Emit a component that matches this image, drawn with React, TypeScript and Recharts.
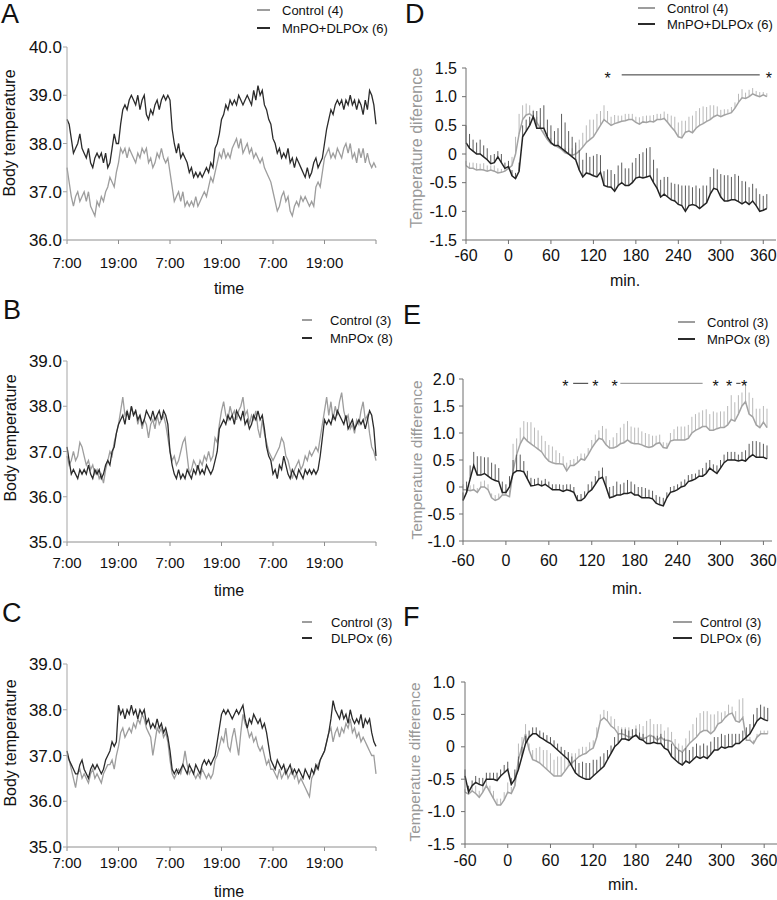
import React from 'react';
import { LineChart, Line, XAxis, YAxis, ErrorBar, ReferenceLine, ReferenceDot } from 'recharts';

const FONT = '"Liberation Sans", Arial, Helvetica, sans-serif';
const GRAY = '#9d9d9d';
const DARK = '#2b2b2b';

// body temperature, one value every 30 min starting 7:00 on day 1 (72 h)
const HOUR_STEP = 0.5;

const tempA_control = [
  37.5, 37.2, 36.9, 36.7, 36.9, 37.0, 36.8, 36.9, 37.0, 36.8, 37.0, 36.7, 36.6, 36.5, 36.8, 36.7, 36.9, 36.8, 37.0, 37.1, 37.3, 37.2, 37.1, 37.4,
  37.6, 37.9, 37.8, 37.9, 37.7, 37.9, 37.8, 37.7, 37.6, 37.8, 37.7, 37.9, 37.8, 37.9, 37.6, 37.7, 37.5, 37.6, 37.8, 37.7, 37.9, 37.7, 37.6, 37.7,
  37.4, 37.1, 36.8, 36.9, 37.0, 36.8, 37.0, 36.7, 36.8, 36.7, 36.8, 36.7, 36.9, 36.7, 36.8, 36.9, 37.0, 36.9, 37.1, 37.3, 37.2, 37.4, 37.6, 37.8,
  37.7, 37.9, 37.7, 37.8, 37.7, 37.9, 38.0, 38.1, 37.9, 38.1, 37.8, 37.9, 38.0, 37.8, 37.9, 37.7, 37.8, 37.7, 37.6, 37.7, 37.5, 37.4, 37.3, 37.2,
  37.0, 36.8, 36.6, 36.7, 36.9, 37.0, 36.8, 36.9, 36.6, 36.5, 36.7, 36.8, 36.7, 36.9, 36.8, 36.9, 36.8, 36.7, 36.8, 36.7, 37.1, 37.2, 37.1, 37.4,
  37.7, 37.8, 37.9, 37.7, 37.8, 37.7, 37.9, 37.8, 37.7, 37.9, 38.0, 37.8, 38.0, 37.7, 37.8, 37.6, 37.9, 37.7, 37.9, 37.6, 37.8, 37.6, 37.5, 37.6,
  37.5,
];
const tempA_lesion = [
  38.5, 38.4, 38.1, 37.8, 37.9, 38.0, 38.2, 37.9, 37.8, 37.7, 37.9, 37.6, 37.5, 37.7, 37.8, 37.7, 37.8, 37.6, 37.8, 37.5, 37.6, 37.9, 38.2, 38.0,
  38.0, 38.4, 38.7, 38.8, 38.7, 38.9, 39.0, 38.9, 38.8, 39.0, 38.7, 38.9, 39.0, 38.6, 38.5, 38.7, 38.6, 38.8, 38.9, 38.7, 38.9, 39.0, 38.9, 39.0,
  38.9, 38.3, 38.0, 37.8, 38.0, 37.7, 37.8, 37.7, 37.6, 37.4, 37.5, 37.3, 37.4, 37.3, 37.4, 37.3, 37.4, 37.5, 37.4, 37.6, 37.5, 37.9, 38.0, 38.2,
  38.5, 38.6, 38.8, 38.7, 38.9, 38.8, 38.9, 38.8, 39.0, 38.9, 38.8, 38.9, 39.0, 38.9, 38.8, 39.1, 38.9, 39.2, 39.0, 39.1, 38.8, 38.7, 38.5, 38.4,
  38.1, 38.0, 37.8, 37.9, 37.7, 37.8, 37.7, 37.9, 37.6, 37.7, 37.5, 37.7, 37.6, 37.5, 37.4, 37.3, 37.5, 37.3, 37.4, 37.6, 37.7, 37.5, 37.6, 37.7,
  38.0, 38.3, 38.5, 38.7, 38.6, 38.8, 38.9, 38.8, 38.9, 38.7, 38.9, 38.8, 39.0, 38.8, 38.9, 38.7, 38.9, 38.8, 38.6, 38.9, 38.7, 39.1, 39.0, 38.8,
  38.4,
];

const tempB_control = [
  36.9, 36.7, 36.8, 37.0, 36.8, 36.9, 37.2, 37.1, 36.9, 36.7, 36.8, 36.6, 36.7, 36.5, 36.6, 36.4, 36.5, 36.3, 36.6, 36.8, 37.0, 36.9, 37.2, 37.4,
  37.6, 37.9, 38.2, 37.8, 37.9, 37.7, 38.0, 37.8, 37.9, 37.6, 37.8, 37.5, 37.7, 37.6, 37.3, 37.6, 37.7, 37.5, 37.8, 37.6, 37.7, 37.8, 37.6, 37.3,
  37.0, 36.8, 36.9, 36.7, 36.8, 37.0, 37.2, 37.3, 36.9, 36.5, 36.6, 36.8, 36.7, 36.6, 36.8, 36.7, 36.9, 36.8, 37.0, 36.8, 36.9, 37.3, 37.2, 37.6,
  37.9, 38.1, 37.8, 37.7, 38.0, 37.8, 37.9, 37.7, 37.9, 38.0, 38.2, 37.8, 37.9, 37.6, 37.8, 37.7, 37.9, 37.5, 37.3, 37.7, 37.4, 37.2, 37.0, 36.9,
  36.8, 36.9, 37.0, 37.1, 37.3, 37.2, 36.9, 36.8, 36.6, 36.4, 36.6, 36.7, 36.8, 36.6, 36.7, 36.9, 36.8, 37.0, 36.9, 37.0, 37.1, 37.0, 37.3, 37.6,
  37.9, 38.2, 37.8, 38.1, 37.7, 38.0, 37.8, 38.1, 38.3, 37.9, 37.7, 37.8, 37.5, 37.6, 37.4, 37.7, 37.6, 37.9, 38.1, 37.7, 37.8, 37.4, 37.1, 37.0,
  36.8,
];
const tempB_lesion = [
  37.1, 36.8, 36.5, 36.6, 36.5, 36.4, 36.6, 36.5, 36.6, 36.5, 36.7, 36.5, 36.4, 36.6, 36.5, 36.6, 36.4, 36.5, 36.7, 36.8, 36.7, 37.0, 37.1, 37.4,
  37.6, 37.7, 37.8, 37.6, 37.9, 37.7, 38.0, 37.8, 37.9, 37.7, 37.8, 37.6, 37.7, 37.9, 37.8, 37.7, 37.9, 37.7, 37.8, 37.9, 37.7, 37.9, 37.8, 37.6,
  37.0, 36.7, 36.5, 36.4, 36.6, 36.4, 36.5, 36.4, 36.6, 36.5, 36.4, 36.6, 36.5, 36.7, 36.5, 36.6, 36.5, 36.7, 36.6, 36.5, 36.6, 36.8, 37.0, 37.5,
  37.6, 37.7, 37.6, 37.8, 37.7, 37.8, 37.6, 37.9, 37.8, 37.7, 37.9, 37.6, 37.7, 37.5, 37.6, 37.8, 37.7, 37.9, 37.7, 37.8, 37.5, 37.1, 36.9, 36.8,
  36.5, 36.6, 36.4, 36.7, 36.6, 36.9, 36.7, 36.5, 36.4, 36.6, 36.5, 36.4, 36.6, 36.5, 36.4, 36.6, 36.5, 36.6, 36.5, 36.6, 36.5, 36.6, 36.9, 37.3,
  37.7, 37.6, 37.7, 37.6, 37.8, 37.7, 37.9, 37.8, 37.7, 37.6, 37.8, 37.5, 37.6, 37.7, 37.5, 37.6, 37.7, 37.6, 37.7, 37.5, 37.7, 37.9, 37.8, 37.5,
  36.9,
];

const tempC_control = [
  37.0, 36.9, 36.7, 36.5, 36.3, 36.6, 36.7, 36.5, 36.6, 36.5, 36.4, 36.6, 36.7, 36.5, 36.6, 36.5, 36.4, 36.6, 36.7, 36.8, 36.8, 36.9, 36.7, 37.0,
  37.2, 37.5, 37.6, 37.4, 37.5, 37.6, 37.5, 37.7, 37.6, 37.8, 37.7, 37.9, 37.8, 37.6, 37.5, 37.4, 37.0, 37.3, 37.6, 37.5, 37.6, 37.4, 37.5, 37.3,
  36.9, 36.6, 36.5, 36.6, 36.7, 36.6, 36.8, 37.1, 36.8, 36.6, 36.7, 36.6, 36.5, 36.6, 36.5, 36.7, 36.6, 36.5, 36.6, 36.5, 36.6, 36.9, 37.0, 37.2,
  37.4, 37.3, 37.6, 37.2, 37.1, 37.4, 37.6, 37.3, 37.0, 37.5, 37.9, 37.7, 37.6, 37.4, 37.5, 37.3, 37.4, 37.2, 37.1, 37.2, 37.0, 36.8, 36.9, 36.7,
  36.7, 36.6, 36.5, 36.7, 36.5, 36.6, 36.7, 36.5, 36.6, 36.7, 36.5, 36.6, 36.4, 36.5, 36.4, 36.3, 36.2, 36.1, 36.5, 36.6, 36.7, 36.8, 36.9, 37.0,
  37.1, 37.3, 37.5, 37.6, 37.3, 37.5, 37.6, 37.4, 37.6, 37.5, 37.7, 37.6, 37.8, 37.5, 37.6, 37.4, 37.5, 37.3, 37.4, 37.3, 37.2, 37.1, 37.0, 37.0,
  36.6,
];
const tempC_lesion = [
  37.1, 36.9, 36.8, 36.7, 36.6, 36.6, 36.8, 36.9, 36.7, 36.6, 36.5, 36.7, 36.8, 36.7, 36.8, 36.7, 36.6, 36.7, 36.9, 37.0, 37.1, 37.3, 37.2, 37.3,
  38.1, 37.9, 38.0, 37.8, 38.0, 37.9, 38.1, 37.9, 38.0, 37.8, 38.0, 37.9, 38.0, 37.7, 37.8, 37.6, 37.7, 37.6, 37.8, 37.6, 37.7, 37.5, 37.6, 37.4,
  37.1, 36.7, 36.6, 36.7, 36.6, 36.7, 36.8, 36.7, 36.6, 36.8, 36.7, 36.6, 36.8, 36.7, 36.6, 36.8, 36.9, 36.8, 36.9, 36.8, 36.9, 37.0, 37.3, 37.6,
  37.9, 38.0, 37.9, 38.0, 37.9, 37.8, 37.9, 38.0, 37.9, 38.0, 38.1, 37.8, 37.6, 37.8, 37.7, 37.9, 37.8, 37.7, 37.8, 37.6, 37.7, 37.5, 37.2, 36.9,
  36.8, 36.7, 36.9, 36.8, 36.7, 36.8, 36.6, 36.7, 36.8, 36.6, 36.7, 36.6, 36.7, 36.6, 36.5, 36.7, 36.6, 36.5, 36.7, 36.6, 36.8, 36.7, 36.9, 37.0,
  37.1, 37.3, 37.5, 37.8, 38.2, 38.0, 37.9, 37.8, 38.0, 37.8, 37.9, 37.7, 38.0, 37.8, 37.7, 37.8, 37.7, 37.9, 37.6, 37.8, 37.7, 37.8, 37.5, 37.3,
  37.2,
];

const timeTicks = [0, 12, 24, 36, 48, 60, 72];
const timeLabels = ['7:00', '19:00', '7:00', '19:00', '7:00', '19:00', ''];

// temperature difference, every 5 min
const minutes = [
  -60, -55, -50, -45, -40, -35, -30, -25, -20, -15, -10, -5,
  0, 5, 10, 15, 20, 25, 30, 35, 40, 45, 50, 55,
  60, 65, 70, 75, 80, 85, 90, 95, 100, 105, 110, 115,
  120, 125, 130, 135, 140, 145, 150, 155, 160, 165, 170, 175,
  180, 185, 190, 195, 200, 205, 210, 215, 220, 225, 230, 235,
  240, 245, 250, 255, 260, 265, 270, 275, 280, 285, 290, 295,
  300, 305, 310, 315, 320, 325, 330, 335, 340, 345, 350, 355,
  360, 365,
];
const minTicks = [-60, 0, 60, 120, 180, 240, 300, 360];

const diffD_control = [
  -0.2, -0.25, -0.25, -0.28, -0.27, -0.28, -0.3, -0.28, -0.3, -0.33, -0.32, -0.3,
  -0.25, -0.2, 0.0, 0.35, 0.6, 0.68, 0.7, 0.65, 0.55, 0.45, 0.35, 0.25,
  0.18, 0.15, 0.12, 0.08, 0.02, 0.0, -0.02, 0.0, 0.05, 0.12, 0.2, 0.25,
  0.3, 0.4, 0.5, 0.6, 0.55, 0.5, 0.53, 0.55, 0.57, 0.58, 0.6, 0.6,
  0.55, 0.52, 0.56, 0.55, 0.57, 0.56, 0.6, 0.6, 0.62, 0.55, 0.47, 0.4,
  0.3, 0.28, 0.38, 0.4, 0.37, 0.45, 0.5, 0.53, 0.57, 0.6, 0.65, 0.68,
  0.65, 0.68, 0.7, 0.72, 0.8, 0.9, 0.98, 0.97, 1.0, 1.05, 1.02, 1.0,
  1.03, 1.0,
];
const diffD_controlSem = [
  0.08, 0.1, 0.1, 0.12, 0.1, 0.12, 0.1, 0.08, 0.1, 0.08, 0.06, 0.08,
  0.1, 0.15, 0.3, 0.35, 0.25, 0.2, 0.15, 0.12, 0.1, 0.1, 0.08, 0.08,
  0.1, 0.08, 0.1, 0.08, 0.08, 0.1, 0.12, 0.15, 0.2, 0.25, 0.3, 0.35,
  0.3, 0.3, 0.25, 0.25, 0.2, 0.15, 0.15, 0.12, 0.1, 0.12, 0.1, 0.1,
  0.1, 0.12, 0.1, 0.12, 0.1, 0.12, 0.1, 0.1, 0.12, 0.15, 0.2, 0.25,
  0.25, 0.3, 0.2, 0.25, 0.3, 0.3, 0.3, 0.3, 0.25, 0.25, 0.2, 0.15,
  0.12, 0.1, 0.08, 0.1, 0.1, 0.15, 0.15, 0.1, 0.12, 0.1, 0.08, 0.08,
  0.05, 0.06,
];
const diffD_lesion = [
  0.2, 0.1, 0.05, 0.0, 0.0, -0.05, -0.1, -0.17, -0.15, -0.05, -0.15, -0.25,
  -0.22, -0.38, -0.43, -0.3, 0.3, 0.4, 0.5, 0.65, 0.45, 0.45, 0.45, 0.3,
  0.2, 0.15, 0.15, 0.1, 0.05, 0.0, -0.05, -0.1, -0.28, -0.4, -0.33, -0.35,
  -0.38, -0.4, -0.32, -0.55, -0.57, -0.58, -0.65, -0.55, -0.5, -0.55, -0.55, -0.5,
  -0.42, -0.4, -0.42, -0.4, -0.38, -0.5, -0.6, -0.75, -0.7, -0.75, -0.8, -0.82,
  -0.88, -0.9, -1.0, -0.9, -0.88, -0.9, -0.95, -0.9, -0.85, -0.7, -0.6, -0.62,
  -0.75, -0.82, -0.82, -0.8, -0.8, -0.83, -0.87, -0.83, -0.88, -0.82, -0.9, -1.0,
  -0.98, -0.95,
];
const diffD_lesionSem = [
  0.3, 0.25, 0.2, 0.2, 0.25, 0.2, 0.2, 0.15, 0.15, 0.1, 0.15, 0.1,
  0.1, 0.1, 0.1, 0.15, 0.2, 0.2, 0.15, 0.1, 0.3, 0.35, 0.4, 0.3,
  0.3, 0.25, 0.3, 0.6, 0.5, 0.4, 0.35, 0.3, 0.35, 0.3, 0.35, 0.3,
  0.35, 0.4, 0.3, 0.25, 0.3, 0.3, 0.3, 0.35, 0.35, 0.3, 0.3, 0.35,
  0.35, 0.4, 0.45, 0.5, 0.5, 0.4, 0.35, 0.3, 0.3, 0.35, 0.3, 0.3,
  0.35, 0.35, 0.45, 0.35, 0.3, 0.35, 0.35, 0.35, 0.3, 0.3, 0.35, 0.35,
  0.4, 0.45, 0.45, 0.4, 0.45, 0.45, 0.4, 0.35, 0.3, 0.3, 0.3, 0.3,
  0.25, 0.25,
];

const diffE_control = [
  -0.05, -0.05, -0.07, -0.05, -0.1, 0.0, 0.0, -0.05, -0.2, -0.25, -0.22, -0.15,
  -0.15, -0.18, 0.3, 0.6, 0.8, 0.92, 0.85, 0.8, 0.75, 0.7, 0.65, 0.55,
  0.48, 0.45, 0.43, 0.43, 0.42, 0.3, 0.4, 0.4, 0.45, 0.52, 0.5, 0.6,
  0.72, 0.82, 0.9, 0.88, 0.78, 0.72, 0.72, 0.75, 0.8, 0.82, 0.87, 0.82,
  0.8, 0.8, 0.78, 0.75, 0.73, 0.75, 0.8, 0.82, 0.73, 0.72, 0.85, 0.87,
  0.87, 0.87, 0.87, 0.9, 1.0, 1.05, 1.08, 1.12, 1.12, 1.05, 1.05, 1.08,
  1.1, 1.1, 1.15, 1.25, 1.22, 1.35, 1.5, 1.58, 1.35, 1.3, 1.15, 1.1,
  1.2, 1.1,
];
const diffE_controlSem = [
  0.1, 0.08, 0.1, 0.1, 0.08, 0.1, 0.12, 0.1, 0.08, 0.1, 0.1, 0.12,
  0.1, 0.12, 0.5, 0.3, 0.3, 0.3, 0.35, 0.4, 0.35, 0.35, 0.3, 0.3,
  0.3, 0.3, 0.25, 0.2, 0.15, 0.15, 0.1, 0.12, 0.12, 0.1, 0.12, 0.12,
  0.15, 0.15, 0.15, 0.25, 0.3, 0.15, 0.2, 0.25, 0.3, 0.35, 0.35, 0.3,
  0.3, 0.3, 0.25, 0.25, 0.25, 0.2, 0.15, 0.15, 0.1, 0.1, 0.15, 0.2,
  0.25, 0.25, 0.25, 0.25, 0.3, 0.3, 0.3, 0.3, 0.32, 0.3, 0.35, 0.3,
  0.3, 0.3, 0.35, 0.45, 0.35, 0.35, 0.25, 0.37, 0.4, 0.35, 0.3, 0.35,
  0.3, 0.35,
];
const diffE_lesion = [
  -0.25, -0.1, 0.15, 0.4, 0.22, 0.22, 0.25, 0.2, 0.15, 0.12, 0.1, -0.1,
  -0.1, 0.0, 0.25, 0.3, 0.3, 0.28, 0.15, 0.02, 0.03, 0.05, 0.02, 0.05,
  0.0, -0.05, -0.05, -0.05, -0.08, -0.05, -0.07, -0.1, -0.25, -0.25, -0.2, -0.1,
  -0.05, 0.05, 0.15, 0.18, 0.0, -0.2, -0.18, -0.15, -0.15, -0.12, -0.12, -0.1,
  -0.15, -0.15, -0.2, -0.2, -0.2, -0.22, -0.3, -0.33, -0.35, -0.2, -0.1, -0.08,
  -0.05, 0.0, 0.02, 0.1, 0.12, 0.15, 0.2, 0.2, 0.25, 0.35, 0.3, 0.25,
  0.35, 0.45, 0.5, 0.5, 0.5, 0.48, 0.5, 0.48, 0.55, 0.6, 0.55, 0.55,
  0.55, 0.52,
];
const diffE_lesionSem = [
  0.15, 0.2, 0.25, 0.25, 0.35, 0.35, 0.3, 0.35, 0.3, 0.3, 0.25, 0.2,
  0.15, 0.2, 0.25, 0.3, 0.3, 0.2, 0.15, 0.15, 0.12, 0.12, 0.1, 0.1,
  0.1, 0.1, 0.1, 0.1, 0.12, 0.1, 0.12, 0.1, 0.1, 0.12, 0.12, 0.15,
  0.15, 0.15, 0.15, 0.18, 0.2, 0.2, 0.2, 0.25, 0.2, 0.2, 0.25, 0.2,
  0.2, 0.15, 0.2, 0.18, 0.15, 0.15, 0.15, 0.15, 0.15, 0.1, 0.1, 0.1,
  0.1, 0.1, 0.12, 0.12, 0.12, 0.1, 0.12, 0.15, 0.2, 0.15, 0.12, 0.15,
  0.15, 0.15, 0.15, 0.15, 0.15, 0.12, 0.15, 0.2, 0.25, 0.25, 0.3, 0.28,
  0.25, 0.25,
];

const diffF_control = [
  -0.7, -0.73, -0.68, -0.72, -0.78, -0.7, -0.6, -0.7, -0.8, -0.9, -0.9, -0.82,
  -0.7, -0.72, -0.6, -0.2, 0.0, 0.2, -0.05, -0.2, -0.22, -0.25, -0.3, -0.35,
  -0.4, -0.45, -0.45, -0.45, -0.38, -0.3, -0.25, -0.2, -0.15, -0.12, -0.1, -0.05,
  -0.02, 0.15, 0.4, 0.45, 0.4, 0.32, 0.28, 0.2, 0.2, 0.18, 0.15, 0.15,
  0.18, 0.15, 0.12, 0.15, 0.18, 0.15, 0.1, 0.15, 0.1, 0.1, 0.08, 0.0,
  -0.05, -0.08, -0.02, 0.05, 0.1, 0.15, 0.22, 0.25, 0.25, 0.2, 0.25, 0.35,
  0.38, 0.45, 0.5, 0.52, 0.4, 0.38, 0.45, 0.1, 0.1, 0.05, 0.15, 0.2,
  0.2, 0.2,
];
const diffF_controlSem = [
  0.05, 0.08, 0.1, 0.12, 0.1, 0.1, 0.12, 0.1, 0.12, 0.1, 0.1, 0.12,
  0.15, 0.1, 0.2, 0.25, 0.15, 0.15, 0.1, 0.15, 0.2, 0.25, 0.25, 0.3,
  0.3, 0.25, 0.3, 0.3, 0.25, 0.2, 0.15, 0.1, 0.12, 0.12, 0.1, 0.12,
  0.12, 0.15, 0.1, 0.12, 0.15, 0.15, 0.15, 0.12, 0.1, 0.12, 0.15, 0.12,
  0.15, 0.2, 0.2, 0.25, 0.25, 0.2, 0.25, 0.2, 0.15, 0.2, 0.15, 0.12,
  0.1, 0.1, 0.15, 0.2, 0.25, 0.3, 0.3, 0.3, 0.3, 0.3, 0.25, 0.2,
  0.15, 0.1, 0.15, 0.1, 0.15, 0.35, 0.3, 0.1, 0.05, 0.05, 0.05, 0.05,
  0.05, 0.05,
];
const diffF_lesion = [
  -0.45, -0.7, -0.6, -0.55, -0.58, -0.6, -0.5, -0.5, -0.5, -0.52, -0.45, -0.4,
  -0.35, -0.58, -0.5, -0.35, -0.15, 0.05, 0.15, 0.2, 0.2, 0.15, 0.12, 0.08,
  0.05, 0.0, -0.05, -0.1, -0.15, -0.2, -0.3, -0.4, -0.45, -0.48, -0.5, -0.5,
  -0.45, -0.4, -0.35, -0.3, -0.2, -0.1, 0.0, 0.05, 0.12, 0.12, 0.1, 0.15,
  0.18, 0.12, 0.1, 0.05, 0.05, 0.07, 0.05, 0.05, -0.02, -0.05, -0.15, -0.2,
  -0.25, -0.28, -0.22, -0.25, -0.2, -0.15, -0.18, -0.15, -0.18, -0.12, -0.05, -0.05,
  0.0, -0.02, 0.0, 0.0, 0.05, 0.05, 0.1, 0.15, 0.2, 0.3, 0.4, 0.45,
  0.42, 0.4,
];
const diffF_lesionSem = [
  0.1, 0.1, 0.08, 0.1, 0.1, 0.12, 0.1, 0.1, 0.1, 0.12, 0.1, 0.12,
  0.12, 0.1, 0.15, 0.2, 0.15, 0.12, 0.1, 0.1, 0.1, 0.1, 0.1, 0.1,
  0.1, 0.1, 0.1, 0.1, 0.1, 0.12, 0.15, 0.2, 0.2, 0.25, 0.25, 0.25,
  0.25, 0.2, 0.2, 0.2, 0.15, 0.12, 0.15, 0.15, 0.15, 0.15, 0.15, 0.12,
  0.1, 0.1, 0.1, 0.1, 0.12, 0.1, 0.12, 0.15, 0.15, 0.15, 0.2, 0.2,
  0.2, 0.2, 0.2, 0.2, 0.2, 0.2, 0.2, 0.2, 0.2, 0.2, 0.2, 0.2,
  0.2, 0.2, 0.2, 0.2, 0.15, 0.15, 0.15, 0.15, 0.15, 0.2, 0.2, 0.2,
  0.2, 0.2,
];

// significance marks (min) and the bars between them
const sigD_level = 1.38;
const sigD_stars = [140, 368];
const sigD_bars = [[160, 355]];
const sigE_level = 1.92;
const sigE_stars = [83, 125, 152, 293, 312, 333];
const sigE_bars = [[94, 115], [160, 275], [322, 328]];

type Box = { left: number; top: number; width: number; height: number };
type Plot = { x0: number; y0: number; x1: number; y1: number };

const Y_W = 55;
const X_H = 35;

function marginFor(box: Box, plot: Plot) {
  return {
    left: plot.x0 - box.left - Y_W,
    top: plot.y0 - box.top,
    right: box.left + box.width - plot.x1,
    bottom: box.top + box.height - plot.y1 - X_H,
  };
}

const fmt1 = (v: number) => (v === 0 ? '0' : v.toFixed(1));

function TempPanel({ box, plot, ctrl, lesion, domain, ticks, xTickMargin }: any) {
  const rows = ctrl.map((v: number, i: number) => ({ h: i * HOUR_STEP, ctrl: v, lesion: lesion[i] }));
  return (
    <div style={{ position: 'absolute', left: box.left, top: box.top }}>
      <LineChart width={box.width} height={box.height} data={rows} margin={marginFor(box, plot)}>
        <XAxis
          dataKey="h"
          type="number"
          domain={[0, 72]}
          ticks={timeTicks}
          interval={0}
          tickFormatter={(v: number) => timeLabels[timeTicks.indexOf(v)]}
          height={X_H}
          tickSize={4}
          tickMargin={xTickMargin}
          stroke="#8e8e8e"
          tick={{ fontSize: 15, fill: '#111' }}
        />
        <YAxis
          type="number"
          domain={domain}
          ticks={ticks}
          interval={0}
          tickFormatter={(v: number) => v.toFixed(1)}
          width={Y_W}
          tickSize={4}
          tickMargin={1}
          stroke="#a5a5a5"
          tick={{ fontSize: 17, fill: '#111' }}
        />
        <Line dataKey="ctrl" stroke={GRAY} strokeWidth={1.3} dot={false} isAnimationActive={false} />
        <Line dataKey="lesion" stroke={DARK} strokeWidth={1.3} dot={false} isAnimationActive={false} />
      </LineChart>
    </div>
  );
}

function DiffPanel({ box, plot, xMax, ctrl, ctrlSem, lesion, lesionSem, domain, ticks, xTickMargin, yTickMargin, stars, bars, level, barColor }: any) {
  const rows = minutes.map((m, i) => ({
    m,
    ctrl: ctrl[i],
    ctrlErr: [0, ctrlSem[i]],
    lesion: lesion[i],
    lesionErr: [0, lesionSem[i]],
  }));
  return (
    <div style={{ position: 'absolute', left: box.left, top: box.top }}>
      <LineChart width={box.width} height={box.height} data={rows} margin={marginFor(box, plot)}>
        <XAxis
          dataKey="m"
          type="number"
          domain={[-60, xMax]}
          ticks={minTicks}
          interval={0}
          height={X_H}
          tickSize={4}
          tickMargin={xTickMargin}
          stroke="#6f6f6f"
          tick={{ fontSize: 16, fill: '#111' }}
        />
        <YAxis
          type="number"
          domain={domain}
          ticks={ticks}
          interval={0}
          tickFormatter={fmt1}
          width={Y_W}
          tickSize={4}
          tickMargin={yTickMargin}
          stroke="#6f6f6f"
          tick={{ fontSize: 16, fill: '#111' }}
        />
        <Line dataKey="ctrl" stroke="#a3a3a3" strokeWidth={1.5} dot={false} isAnimationActive={false}>
          <ErrorBar dataKey="ctrlErr" direction="y" width={0} stroke="#b9b9b9" strokeWidth={1} />
        </Line>
        <Line dataKey="lesion" stroke="#232323" strokeWidth={1.5} dot={false} isAnimationActive={false}>
          <ErrorBar dataKey="lesionErr" direction="y" width={0} stroke="#5c5c5c" strokeWidth={1} />
        </Line>
        {(bars || []).map((b: number[], i: number) => (
          <ReferenceLine
            key={`bar-${i}`}
            segment={[{ x: b[0], y: level }, { x: b[1], y: level }]}
            stroke={barColor ? barColor[i] : '#333'}
            strokeWidth={1}
          />
        ))}
        {(stars || []).map((s: number, i: number) => (
          <ReferenceDot
            key={`star-${i}`}
            x={s}
            y={level - 0.06}
            r={0}
            fill="none"
            stroke="none"
            label={{ value: '*', position: 'center', fontSize: 16, fill: '#111' }}
          />
        ))}
      </LineChart>
    </div>
  );
}

function Caption({ x, y, size = 16, color = '#111', rotate = false, children }: any) {
  return (
    <div
      style={{
        position: 'absolute',
        left: x,
        top: y,
        fontSize: size,
        color,
        lineHeight: 1,
        whiteSpace: 'nowrap',
        transform: `translate(-50%, -50%)${rotate ? ' rotate(-90deg)' : ''}`,
      }}
    >
      {children}
    </div>
  );
}

function Letter({ x, y, children }: any) {
  return (
    <div style={{ position: 'absolute', left: x, top: y, fontSize: 27, lineHeight: 1 }}>{children}</div>
  );
}

function KeyRow({ x0, x1, tx, y, color, text }: any) {
  return (
    <>
      <div style={{ position: 'absolute', left: x0, top: y - 1, width: x1 - x0, height: 2, background: color }} />
      <div style={{ position: 'absolute', left: tx, top: y, fontSize: 13, lineHeight: 1, whiteSpace: 'nowrap', transform: 'translateY(-50%)' }}>
        {text}
      </div>
    </>
  );
}

export default function App() {
  const leftTicksA = [36, 37, 38, 39, 40];
  const leftTicksBC = [35, 36, 37, 38, 39];
  return (
    <div
      style={{
        position: 'absolute',
        left: 0,
        top: 0,
        width: 777,
        height: 900,
        background: '#fff',
        fontFamily: FONT,
        color: '#111',
        overflow: 'hidden',
      }}
    >
      {/* A */}
      <TempPanel
        box={{ left: 0, top: 0, width: 390, height: 290 }}
        plot={{ x0: 67, y0: 47, x1: 376, y1: 240 }}
        ctrl={tempA_control}
        lesion={tempA_lesion}
        domain={[36, 40]}
        ticks={leftTicksA}
        xTickMargin={13}
      />
      <Letter x={1} y={1}>A</Letter>
      <KeyRow x0={257} x1={270} tx={282} y={10} color={GRAY} text="Control (4)" />
      <KeyRow x0={257} x1={270} tx={282} y={28} color={DARK} text="MnPO+DLPOx (6)" />
      <Caption x={10} y={133} rotate>Body temperature</Caption>
      <Caption x={229} y={289}>time</Caption>

      {/* B */}
      <TempPanel
        box={{ left: 0, top: 290, width: 390, height: 300 }}
        plot={{ x0: 67, y0: 361, x1: 376, y1: 542 }}
        ctrl={tempB_control}
        lesion={tempB_lesion}
        domain={[35, 39]}
        ticks={leftTicksBC}
        xTickMargin={11}
      />
      <Letter x={3} y={297}>B</Letter>
      <KeyRow x0={302} x1={312} tx={330} y={320} color={GRAY} text="Control (3)" />
      <KeyRow x0={302} x1={312} tx={330} y={338} color={DARK} text="MnPOx (8)" />
      <Caption x={11} y={438} rotate>Body temperature</Caption>
      <Caption x={229} y={591}>time</Caption>

      {/* C */}
      <TempPanel
        box={{ left: 0, top: 590, width: 390, height: 310 }}
        plot={{ x0: 67, y0: 664, x1: 376, y1: 847 }}
        ctrl={tempC_control}
        lesion={tempC_lesion}
        domain={[35, 39]}
        ticks={leftTicksBC}
        xTickMargin={6}
      />
      <Letter x={2} y={600}>C</Letter>
      <KeyRow x0={302} x1={312} tx={331} y={622} color={GRAY} text="Control (3)" />
      <KeyRow x0={302} x1={312} tx={331} y={638} color={DARK} text="DLPOx (6)" />
      <Caption x={11} y={743} rotate>Body temperature</Caption>
      <Caption x={229} y={892}>time</Caption>

      {/* D */}
      <DiffPanel
        box={{ left: 390, top: 0, width: 387, height: 290 }}
        plot={{ x0: 466, y0: 68, x1: 776, y1: 240 }}
        xMax={378}
        ctrl={diffD_control}
        ctrlSem={diffD_controlSem}
        lesion={diffD_lesion}
        lesionSem={diffD_lesionSem}
        domain={[-1.5, 1.5]}
        ticks={[-1.5, -1, -0.5, 0, 0.5, 1, 1.5]}
        xTickMargin={6}
        yTickMargin={5}
        stars={sigD_stars}
        bars={sigD_bars}
        level={sigD_level}
      />
      <Letter x={405} y={1}>D</Letter>
      <KeyRow x0={638} x1={655} tx={667} y={8} color={GRAY} text="Control (4)" />
      <KeyRow x0={638} x1={655} tx={667} y={24} color={DARK} text="MnPO+DLPOx (6)" />
      <Caption x={417} y={148} rotate color="#999">Temperature diference</Caption>
      <Caption x={625} y={281}>min.</Caption>

      {/* E */}
      <DiffPanel
        box={{ left: 390, top: 290, width: 387, height: 300 }}
        plot={{ x0: 463, y0: 379, x1: 772, y1: 541 }}
        xMax={372}
        ctrl={diffE_control}
        ctrlSem={diffE_controlSem}
        lesion={diffE_lesion}
        lesionSem={diffE_lesionSem}
        domain={[-1, 2]}
        ticks={[-1, -0.5, 0, 0.5, 1, 1.5, 2]}
        xTickMargin={10}
        yTickMargin={4}
        stars={sigE_stars}
        bars={sigE_bars}
        level={sigE_level}
        barColor={['#333', '#888', '#333']}
      />
      <Letter x={403} y={302}>E</Letter>
      <KeyRow x0={678} x1={695} tx={707} y={322} color={GRAY} text="Control (3)" />
      <KeyRow x0={678} x1={695} tx={707} y={339} color={DARK} text="MnPOx (8)" />
      <Caption x={417} y={460} rotate color="#999" size={15.5}>Temperature difference</Caption>
      <Caption x={627} y={589}>min.</Caption>

      {/* F */}
      <DiffPanel
        box={{ left: 390, top: 590, width: 387, height: 310 }}
        plot={{ x0: 465, y0: 682, x1: 777, y1: 844 }}
        xMax={378}
        ctrl={diffF_control}
        ctrlSem={diffF_controlSem}
        lesion={diffF_lesion}
        lesionSem={diffF_lesionSem}
        domain={[-1.5, 1]}
        ticks={[-1.5, -1, -0.5, 0, 0.5, 1]}
        xTickMargin={7}
        yTickMargin={6}
      />
      <Letter x={403} y={604}>F</Letter>
      <KeyRow x0={673} x1={692} tx={700} y={622} color={GRAY} text="Control (3)" />
      <KeyRow x0={673} x1={692} tx={700} y={638} color={DARK} text="DLPOx (6)" />
      <Caption x={415} y={762} rotate color="#999" size={15.5}>Temperature difference</Caption>
      <Caption x={623} y={885}>min.</Caption>
    </div>
  );
}
